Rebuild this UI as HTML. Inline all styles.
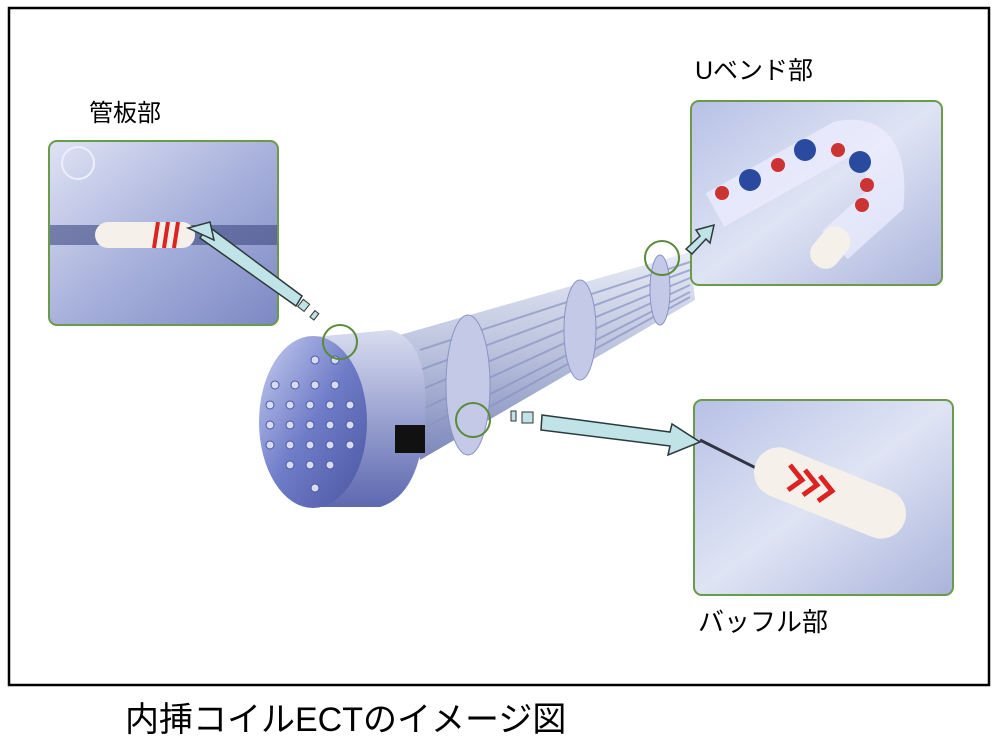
<!DOCTYPE html>
<html><head><meta charset="utf-8"><style>
html,body{margin:0;padding:0;background:#fff;}
body{width:1000px;height:745px;position:relative;overflow:hidden;font-family:"Liberation Sans","Noto Sans CJK JP",sans-serif;}
</style></head><body>
<svg width="1000" height="745" viewBox="0 0 1000 745" xmlns="http://www.w3.org/2000/svg">
<defs>
<linearGradient id="bund" x1="0" y1="0" x2="0" y2="1">
<stop offset="0" stop-color="#e8ecf6"/><stop offset="0.5" stop-color="#b8c0dc"/><stop offset="1" stop-color="#7c86b8"/></linearGradient>
<linearGradient id="face" x1="0" y1="0" x2="1" y2="1">
<stop offset="0" stop-color="#c8cff0"/><stop offset="0.5" stop-color="#6f7cc8"/><stop offset="1" stop-color="#4a55a0"/></linearGradient>
<linearGradient id="side" x1="0" y1="0" x2="0" y2="1">
<stop offset="0" stop-color="#d8dcf0"/><stop offset="1" stop-color="#5d68b0"/></linearGradient>
<linearGradient id="inset" x1="0" y1="0" x2="1" y2="1">
<stop offset="0" stop-color="#dfe3f4"/><stop offset="0.5" stop-color="#a9b2dc"/><stop offset="1" stop-color="#7d88c4"/></linearGradient>
<linearGradient id="inset2" x1="0" y1="0" x2="1" y2="1">
<stop offset="0" stop-color="#b7c1e6"/><stop offset="0.5" stop-color="#dfe4f4"/><stop offset="1" stop-color="#aab3dc"/></linearGradient>
</defs>
<rect x="9" y="8" width="980" height="677" fill="#fff" stroke="#000" stroke-width="2.5"/>

<!-- bundle -->
<polygon points="400,335 690,252 695,300 420,460" fill="url(#bund)"/>
<g stroke="#8a93c4" stroke-width="2" opacity="0.7">
<line x1="420" y1="350" x2="690" y2="262"/><line x1="420" y1="370" x2="690" y2="270"/>
<line x1="420" y1="390" x2="690" y2="278"/><line x1="420" y1="410" x2="690" y2="285"/>
<line x1="420" y1="430" x2="690" y2="292"/><line x1="420" y1="445" x2="690" y2="297"/>
</g>
<g fill="#c3c9e6" stroke="#8a93c4">
<ellipse cx="468" cy="385" rx="22" ry="70"/>
<ellipse cx="580" cy="330" rx="16" ry="50"/>
<ellipse cx="660" cy="290" rx="10" ry="35"/>
</g>
<!-- tubesheet -->
<path d="M313,337 L390,330 Q430,340 425,420 Q420,495 380,507 L313,507 Z" fill="url(#side)"/>
<rect x="395" y="425" width="30" height="28" fill="#111"/>
<ellipse cx="313" cy="422" rx="54" ry="86" fill="url(#face)"/>
<g fill="#d8dcf0" stroke="#5058a0">
<circle cx="275" cy="385" r="4"/><circle cx="295" cy="385" r="4"/><circle cx="315" cy="385" r="4"/><circle cx="335" cy="385" r="4"/>
<circle cx="270" cy="405" r="4"/><circle cx="290" cy="405" r="4"/><circle cx="310" cy="405" r="4"/><circle cx="330" cy="405" r="4"/><circle cx="350" cy="405" r="4"/>
<circle cx="270" cy="425" r="4"/><circle cx="290" cy="425" r="4"/><circle cx="310" cy="425" r="4"/><circle cx="330" cy="425" r="4"/><circle cx="350" cy="425" r="4"/>
<circle cx="270" cy="445" r="4"/><circle cx="290" cy="445" r="4"/><circle cx="310" cy="445" r="4"/><circle cx="330" cy="445" r="4"/><circle cx="350" cy="445" r="4"/>
<circle cx="290" cy="465" r="4"/><circle cx="310" cy="465" r="4"/><circle cx="330" cy="465" r="4"/>
<circle cx="315" cy="488" r="4"/><circle cx="335" cy="360" r="4"/><circle cx="315" cy="360" r="4"/>
</g>
<g fill="none" stroke="#5a8a3a" stroke-width="2">
<circle cx="340" cy="342" r="17"/><circle cx="473" cy="420" r="17"/><circle cx="662" cy="258" r="17"/>
</g>

<!-- insets -->
<rect x="49" y="141" width="229" height="184" rx="8" fill="url(#inset)" stroke="#6a9a4a" stroke-width="2"/>
<rect x="50" y="225" width="227" height="20" fill="#404a80" opacity="0.6"/>
<rect x="95" y="222" width="100" height="26" rx="13" fill="#f5f0ea"/>
<g stroke="#d22" stroke-width="4"><line x1="158" y1="222" x2="154" y2="248"/><line x1="168" y1="222" x2="164" y2="248"/><line x1="178" y1="222" x2="174" y2="248"/></g>
<circle cx="78" cy="163" r="16" fill="none" stroke="#eef" stroke-width="2"/>

<rect x="691" y="101" width="251" height="184" rx="8" fill="url(#inset2)" stroke="#6a9a4a" stroke-width="2"/>
<path d="M715,210 L840,140 Q890,130 885,200 L835,245" fill="none" stroke="#eef" stroke-width="38" opacity="0.7"/>
<g><circle cx="722" cy="193" r="7" fill="#c33"/><circle cx="750" cy="180" r="11" fill="#2a4aa0"/><circle cx="778" cy="165" r="7" fill="#c33"/><circle cx="805" cy="150" r="11" fill="#2a4aa0"/><circle cx="838" cy="150" r="7" fill="#c33"/><circle cx="860" cy="162" r="11" fill="#2a4aa0"/><circle cx="867" cy="185" r="7" fill="#c33"/><circle cx="862" cy="205" r="7" fill="#c33"/></g>
<rect x="815" y="225" width="30" height="45" rx="14" fill="#f5f0ea" transform="rotate(40 830 248)"/>

<rect x="694" y="400" width="259" height="195" rx="8" fill="url(#inset2)" stroke="#6a9a4a" stroke-width="2"/>
<line x1="700" y1="440" x2="770" y2="475" stroke="#334" stroke-width="3"/>
<rect x="750" y="468" width="160" height="50" rx="25" fill="#f5f0ea" transform="rotate(22 830 493)"/>
<g stroke="#d22" stroke-width="5" fill="none"><path d="M790,465 l12,15 l-14,10"/><path d="M805,470 l12,15 l-14,10"/><path d="M820,476 l12,15 l-14,10"/></g>

<!-- arrows (on top) -->
<polygon points="200,238 208,226 302,296 296,306" fill="#bfe3e6" stroke="#2a3a3a" stroke-width="1.5"/>
<polygon points="188,228 214,240 210,222" fill="#bfe3e6" stroke="#2a3a3a" stroke-width="1.5"/>
<rect x="300" y="301" width="8" height="9" fill="#bfe3e6" stroke="#333" transform="rotate(38 304 305)"/>
<rect x="312" y="311" width="5" height="8" fill="#bfe3e6" stroke="#333" transform="rotate(38 314 315)"/>
<rect x="511" y="411" width="5" height="10" fill="#bfe3e6" stroke="#333"/>
<rect x="522" y="412" width="11" height="11" fill="#bfe3e6" stroke="#333"/>
<polygon points="542,415 670,432 672,424 700,442 668,455 670,446 541,430" fill="#bfe3e6" stroke="#2a3a3a" stroke-width="1.5"/>
<polygon points="686,249 700,236 696,230 714,225 710,243 706,239 692,254" fill="#bfe3e6" stroke="#2a3a3a" stroke-width="1.5"/>

<g font-family="'Liberation Sans','Noto Sans CJK JP',sans-serif" fill="#000">
<text x="89" y="121" font-size="24">管板部</text>
<text x="695" y="79" font-size="25">Uベンド部</text>
<text x="698" y="631" font-size="26">バッフル部</text>
<text x="125" y="731" font-size="34">内挿コイルECTのイメージ図</text>
</g>
</svg>
</body></html>
